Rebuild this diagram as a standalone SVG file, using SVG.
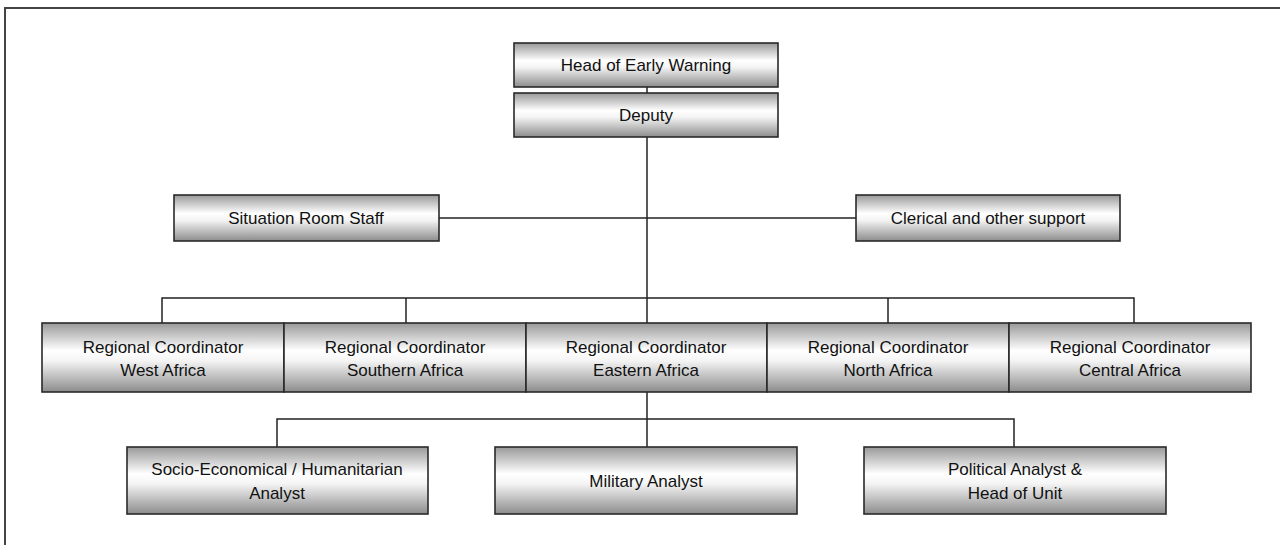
<svg xmlns="http://www.w3.org/2000/svg" width="1280" height="545" viewBox="0 0 1280 545">
  <defs>
    <linearGradient id="boxFill" x1="0" y1="0" x2="0" y2="1">
      <stop offset="0" stop-color="#999999"/>
      <stop offset="0.4" stop-color="#ffffff"/>
      <stop offset="0.55" stop-color="#f4f4f4"/>
      <stop offset="1" stop-color="#8c8c8c"/>
    </linearGradient>
  </defs>
  <style>
    .box { fill: url(#boxFill); stroke: #2a2a2a; stroke-width: 1.6; }
    .lbl { font-family: "Liberation Sans", Arial, sans-serif; font-size: 17px; fill: #111; text-anchor: middle; }
    .wire { fill: none; stroke: #222; stroke-width: 1.5; }
    .frame { fill: none; stroke: #444; stroke-width: 2; }
  </style>
  <rect width="1280" height="545" fill="#ffffff"/>
  <rect class="frame" x="5" y="8" width="1290" height="560"/>

  <g id="connectors">
    <!-- spine from the head down to the analyst bus -->
    <line class="wire" x1="647" y1="87" x2="647" y2="93"/>
    <line class="wire" x1="647" y1="137" x2="647" y2="323"/>
    <!-- staff branch -->
    <line class="wire" x1="439" y1="218" x2="856" y2="218"/>
    <!-- regional bus -->
    <polyline class="wire" points="162,323 162,298 1134,298 1134,323"/>
    <line class="wire" x1="406" y1="298" x2="406" y2="323"/>
    <line class="wire" x1="888" y1="298" x2="888" y2="323"/>
    <!-- analyst bus -->
    <line class="wire" x1="647" y1="392" x2="647" y2="447"/>
    <polyline class="wire" points="277,447 277,419 1014,419 1014,447"/>
  </g>

  <g id="head">
    <rect class="box" x="514" y="43" width="264" height="44"/>
    <text class="lbl" x="646" y="71">Head of Early Warning</text>
  </g>
  <g id="deputy">
    <rect class="box" x="514" y="93" width="264" height="44"/>
    <text class="lbl" x="646" y="121">Deputy</text>
  </g>
  <g id="situation-room">
    <rect class="box" x="174" y="195" width="265" height="46"/>
    <text class="lbl" x="306" y="224">Situation Room Staff</text>
  </g>
  <g id="clerical">
    <rect class="box" x="856" y="195" width="264" height="46"/>
    <text class="lbl" x="988" y="224">Clerical and other support</text>
  </g>

  <g id="rc-west">
    <rect class="box" x="42" y="323" width="242" height="69"/>
    <text class="lbl" x="163" y="353">Regional Coordinator</text>
    <text class="lbl" x="163" y="376">West Africa</text>
  </g>
  <g id="rc-southern">
    <rect class="box" x="284" y="323" width="242" height="69"/>
    <text class="lbl" x="405" y="353">Regional Coordinator</text>
    <text class="lbl" x="405" y="376">Southern Africa</text>
  </g>
  <g id="rc-eastern">
    <rect class="box" x="526" y="323" width="241" height="69"/>
    <text class="lbl" x="646" y="353">Regional Coordinator</text>
    <text class="lbl" x="646" y="376">Eastern Africa</text>
  </g>
  <g id="rc-north">
    <rect class="box" x="767" y="323" width="242" height="69"/>
    <text class="lbl" x="888" y="353">Regional Coordinator</text>
    <text class="lbl" x="888" y="376">North Africa</text>
  </g>
  <g id="rc-central">
    <rect class="box" x="1009" y="323" width="242" height="69"/>
    <text class="lbl" x="1130" y="353">Regional Coordinator</text>
    <text class="lbl" x="1130" y="376">Central Africa</text>
  </g>

  <g id="socio-economic">
    <rect class="box" x="127" y="447" width="301" height="67"/>
    <text class="lbl" x="277" y="475">Socio-Economical / Humanitarian</text>
    <text class="lbl" x="277" y="499">Analyst</text>
  </g>
  <g id="military">
    <rect class="box" x="495" y="447" width="302" height="67"/>
    <text class="lbl" x="646" y="487">Military Analyst</text>
  </g>
  <g id="political">
    <rect class="box" x="864" y="447" width="302" height="67"/>
    <text class="lbl" x="1015" y="475">Political Analyst &amp;</text>
    <text class="lbl" x="1015" y="499">Head of Unit</text>
  </g>
</svg>
